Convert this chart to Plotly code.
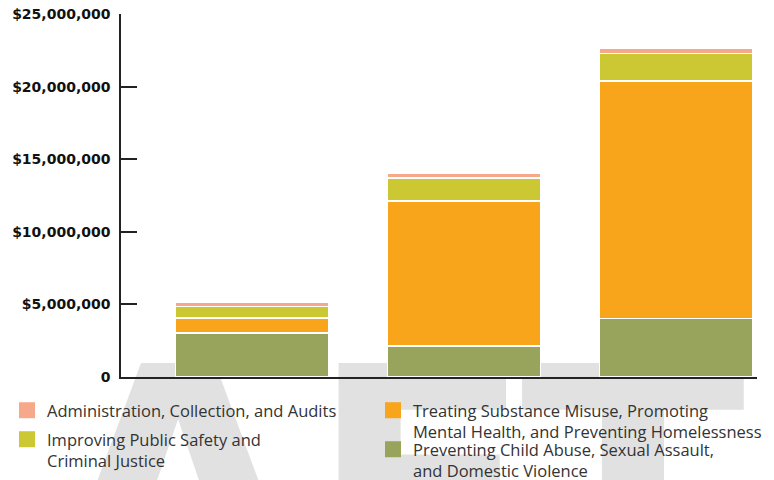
import plotly.graph_objects as go

# ---- data ----
years = ["2021", "2022", "2023"]
child_abuse = [3.03e6, 2.13e6, 4.02e6]
substance = [1.03e6, 9.99e6, 16.35e6]
public_safety = [0.78e6, 1.57e6, 1.90e6]
admin = [0.34e6, 0.32e6, 0.34e6]

name_child = "Preventing Child Abuse, Sexual Assault,<br>and Domestic Violence"
name_substance = "Treating Substance Misuse, Promoting<br>Mental Health, and Preventing Homelessness"
name_safety = "Improving Public Safety and<br>Criminal Justice"
name_admin = "Administration, Collection, and Audits"

tick_vals = [0, 5e6, 10e6, 15e6, 20e6, 25e6]
tick_text = ["0", "$5,000,000", "$10,000,000", "$15,000,000", "$20,000,000", "$25,000,000"]

col_child = "#98A45C"
col_substance = "#F9A51C"
col_safety = "#CBC834"
col_admin = "#F7A78A"

# watermark "DRAFT" split in pieces (decoration only)
watermark_parts = ["DR", "A", "F", "T"]

W, H = 774, 480
PL, PR, PT, PB = 121, 757, 14, 377   # plot-area pixel box

fig = go.Figure()

# watermark on a full-figure background subplot (xy), drawn below the chart subplot
fig.add_trace(go.Scatter(
    x=[30, 178, 421, 633], y=[-356, -356, -356, -356], mode="text",
    text=watermark_parts,
    textposition=["bottom left", "bottom center", "bottom center", "bottom center"],
    textfont=dict(family="DejaVu Sans", size=330, color="#E1E1E1", weight="bold"),
    cliponaxis=False, showlegend=False, hoverinfo="skip",
    xaxis="x", yaxis="y",
))

series = [
    (child_abuse, col_child, name_child),
    (substance, col_substance, name_substance),
    (public_safety, col_safety, name_safety),
    (admin, col_admin, name_admin),
]
for vals, col, nm in series:
    fig.add_trace(go.Bar(
        x=years, y=vals, name=nm,
        marker=dict(color=col, line=dict(color="white", width=1.5)),
        xaxis="x2", yaxis="y2", showlegend=False,
        hoverinfo="x+y",
    ))

# legend entries (square swatches), one legend per entry for column layout
legend_map = [
    (name_admin, col_admin, "legend"),
    (name_safety, col_safety, "legend2"),
    (name_substance, col_substance, "legend3"),
    (name_child, col_child, "legend4"),
]
for nm, col, lg in legend_map:
    fig.add_trace(go.Scatter(
        x=[None], y=[None], mode="markers", name=nm,
        marker=dict(symbol="square", size=16, color=col),
        xaxis="x2", yaxis="y2", legend=lg, showlegend=True,
    ))

totals = [a + b + c + d for a, b, c, d in zip(child_abuse, substance, public_safety, admin)]
annotations = []
for yr, tot in zip(years, totals):
    annotations.append(dict(
        x=yr, y=tot, xref="x2", yref="y2", text="<b>%s</b>" % yr,
        showarrow=False, yanchor="middle", yshift=15,
        font=dict(family="DejaVu Sans", size=13.5, color="#111111"),
    ))

legend_font = dict(family="Open Sans", size=16.5, color="#333333")
def leg(x_px, y_px):
    return dict(
        x=x_px / W, xanchor="left", y=1 - y_px / H, yanchor="top",
        bgcolor="rgba(0,0,0,0)", borderwidth=0, font=legend_font,
        valign="top", itemsizing="trace",
    )

fig.update_layout(
    width=W, height=H,
    margin=dict(l=0, r=0, t=0, b=0, pad=0, autoexpand=False),
    paper_bgcolor="white", plot_bgcolor="rgba(0,0,0,0)",
    barmode="stack", bargap=0.28,
    showlegend=True,
    xaxis=dict(domain=[0, 1], range=[0, W], visible=False, showgrid=False,
               zeroline=False, fixedrange=True),
    yaxis=dict(domain=[0, 1], range=[-H, 0], visible=False, showgrid=False,
               zeroline=False, fixedrange=True),
    xaxis2=dict(domain=[PL / W, PR / W], anchor="y2", type="category",
                range=[-0.618, 2.382],
                showline=True, linecolor="#222222", linewidth=1.5,
                showticklabels=False, ticks="", showgrid=False, zeroline=False),
    yaxis2=dict(domain=[1 - PB / H, 1 - PT / H], anchor="x2", range=[0, 25e6],
                tickmode="array", tickvals=tick_vals, ticktext=tick_text,
                ticks="inside", ticklen=16, tickwidth=1.5, tickcolor="#222222",
                showline=True, linecolor="#222222", linewidth=1.5,
                showgrid=False, zeroline=False, ticklabelstandoff=6,
                tickfont=dict(family="DejaVu Sans", size=14, color="#111111", weight="bold")),
    legend=leg(7, 393),
    legend2=leg(7, 422),
    legend3=leg(373, 393),
    legend4=leg(373, 432),
    annotations=annotations,
)

fig.write_html(
    "out.html",
    config={"displayModeBar": False},
    post_script="document.body.style.margin='0';document.body.style.padding='0';",
)
